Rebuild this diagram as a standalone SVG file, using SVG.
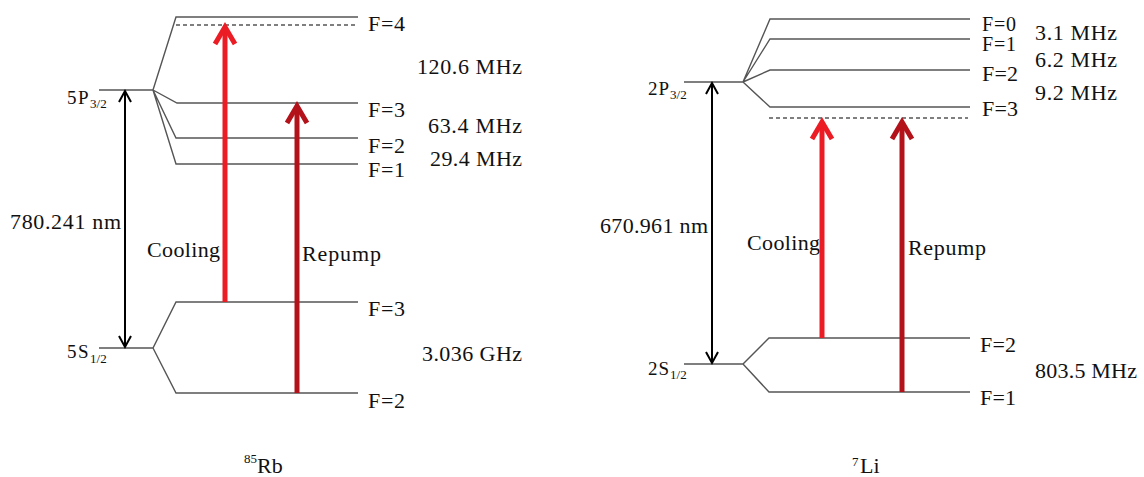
<svg xmlns="http://www.w3.org/2000/svg" width="1144" height="477" viewBox="0 0 1144 477">
<style>
text{font-family:"Liberation Serif","Times New Roman",serif;fill:#111;font-size:22px}
.st{font-size:19px}
.sm{font-size:20px}
.sub{font-size:13px}
.lvl{fill:none;stroke:#555;stroke-width:1.4}
.dash{fill:none;stroke:#555;stroke-width:1.3;stroke-dasharray:4 3}
.blk{stroke:#000;stroke-width:2;fill:none}
.cool{stroke:#ec1c24;stroke-width:5;fill:none}
.rep{stroke:#b3121b;stroke-width:5;fill:none}
</style>
<defs>
<marker id="mb" markerUnits="userSpaceOnUse" viewBox="-20 -20 40 40" markerWidth="40" markerHeight="40" refX="0" refY="0" orient="auto-start-reverse" overflow="visible">
<path d="M-11,-6 L0,0 L-11,6" fill="none" stroke="#000" stroke-width="2"/>
</marker>
<marker id="mc" markerUnits="userSpaceOnUse" viewBox="-25 -25 50 50" markerWidth="50" markerHeight="50" refX="0" refY="0" orient="auto" overflow="visible">
<path d="M-17,-10 L0,0 L-17,10" fill="none" stroke="#ec1c24" stroke-width="5"/>
</marker>
<marker id="mr" markerUnits="userSpaceOnUse" viewBox="-25 -25 50 50" markerWidth="50" markerHeight="50" refX="0" refY="0" orient="auto" overflow="visible">
<path d="M-17,-10 L0,0 L-17,10" fill="none" stroke="#b3121b" stroke-width="5"/>
</marker>
</defs>

<!-- Rb -->
<g id="rb-5p">
<path class="lvl" d="M99,90 H153 L176,17 H358 M153,90 L177,103 H358 M153,90 L176,138 H358 M153,90 L176,164 H358"/>
<path class="dash" d="M176,25 H358"/>
<text class="st" x="67" y="104" letter-spacing="1.5">5P<tspan class="sub" dy="4" letter-spacing="0">3/2</tspan></text>
<text x="368" y="31" textLength="37">F=4</text>
<text x="368" y="117" textLength="37">F=3</text>
<text x="368" y="153" textLength="37">F=2</text>
<text x="368" y="177" textLength="37">F=1</text>
<text x="417" y="74" textLength="105">120.6 MHz</text>
<text x="428" y="133" textLength="94">63.4 MHz</text>
<text x="430" y="166" textLength="92">29.4 MHz</text>
</g>
<g id="rb-5s">
<path class="lvl" d="M99,348 H153 L176,302 H358 M153,348 L176,393 H358"/>
<text class="st" x="67" y="358" letter-spacing="1.5">5S<tspan class="sub" dy="5" letter-spacing="0">1/2</tspan></text>
<text x="368" y="316" textLength="37">F=3</text>
<text x="368" y="408" textLength="37">F=2</text>
<text x="422" y="361" textLength="100">3.036 GHz</text>
</g>
<g id="rb-title">
<text class="sub" x="244" y="463">85</text>
<text x="257" y="473">Rb</text>
</g>

<!-- Li -->
<g id="li-2p">
<path class="lvl" d="M684,82 H743 L770,19 H970 M743,82 L770,39 H970 M743,82 L770,70 H970 M743,82 L770,107 H970"/>
<path class="dash" d="M769,118 H968"/>
<text class="st" x="648" y="95" letter-spacing="1">2P<tspan class="sub" dy="4" letter-spacing="0">3/2</tspan></text>
<text class="sm" x="982" y="31" textLength="34">F=0</text>
<text class="sm" x="982" y="51" textLength="34">F=1</text>
<text x="982" y="81" textLength="36">F=2</text>
<text x="982" y="116" textLength="36">F=3</text>
<text x="1035" y="40" textLength="82">3.1 MHz</text>
<text x="1035" y="67" textLength="82">6.2 MHz</text>
<text x="1035" y="100" textLength="82">9.2 MHz</text>
</g>
<g id="li-2s">
<path class="lvl" d="M684,364 H743 L769,338 H970 M743,364 L769,392 H970"/>
<text class="st" x="648" y="375" letter-spacing="1">2S<tspan class="sub" dy="4" letter-spacing="0">1/2</tspan></text>
<text x="980" y="352" textLength="36">F=2</text>
<text x="980" y="405" textLength="36">F=1</text>
<text x="1035" y="378" textLength="102">803.5 MHz</text>
</g>
<g id="li-title">
<text class="sub" x="852" y="466">7</text>
<text x="860" y="473">Li</text>
</g>

<!-- labels for transitions -->
<g id="transition-labels">
<text x="10" y="229" textLength="111">780.241 nm</text>
<text x="147" y="257" textLength="73">Cooling</text>
<text x="302" y="261" textLength="79">Repump</text>
<text x="600" y="233" textLength="108">670.961 nm</text>
<text x="747" y="250" textLength="73">Cooling</text>
<text x="908" y="255" textLength="78">Repump</text>
</g>

<g id="connectors">
<line class="blk" x1="125" y1="91" x2="125" y2="347" marker-start="url(#mb)" marker-end="url(#mb)"/>
<line class="cool" x1="225" y1="302" x2="225" y2="27" marker-end="url(#mc)"/>
<line class="rep" x1="297" y1="393" x2="297" y2="106" marker-end="url(#mr)"/>
<line class="blk" x1="712" y1="83" x2="712" y2="363" marker-start="url(#mb)" marker-end="url(#mb)"/>
<line class="cool" x1="822" y1="338" x2="822" y2="122" marker-end="url(#mc)"/>
<line class="rep" x1="902" y1="392" x2="902" y2="122" marker-end="url(#mr)"/>
</g>
</svg>
